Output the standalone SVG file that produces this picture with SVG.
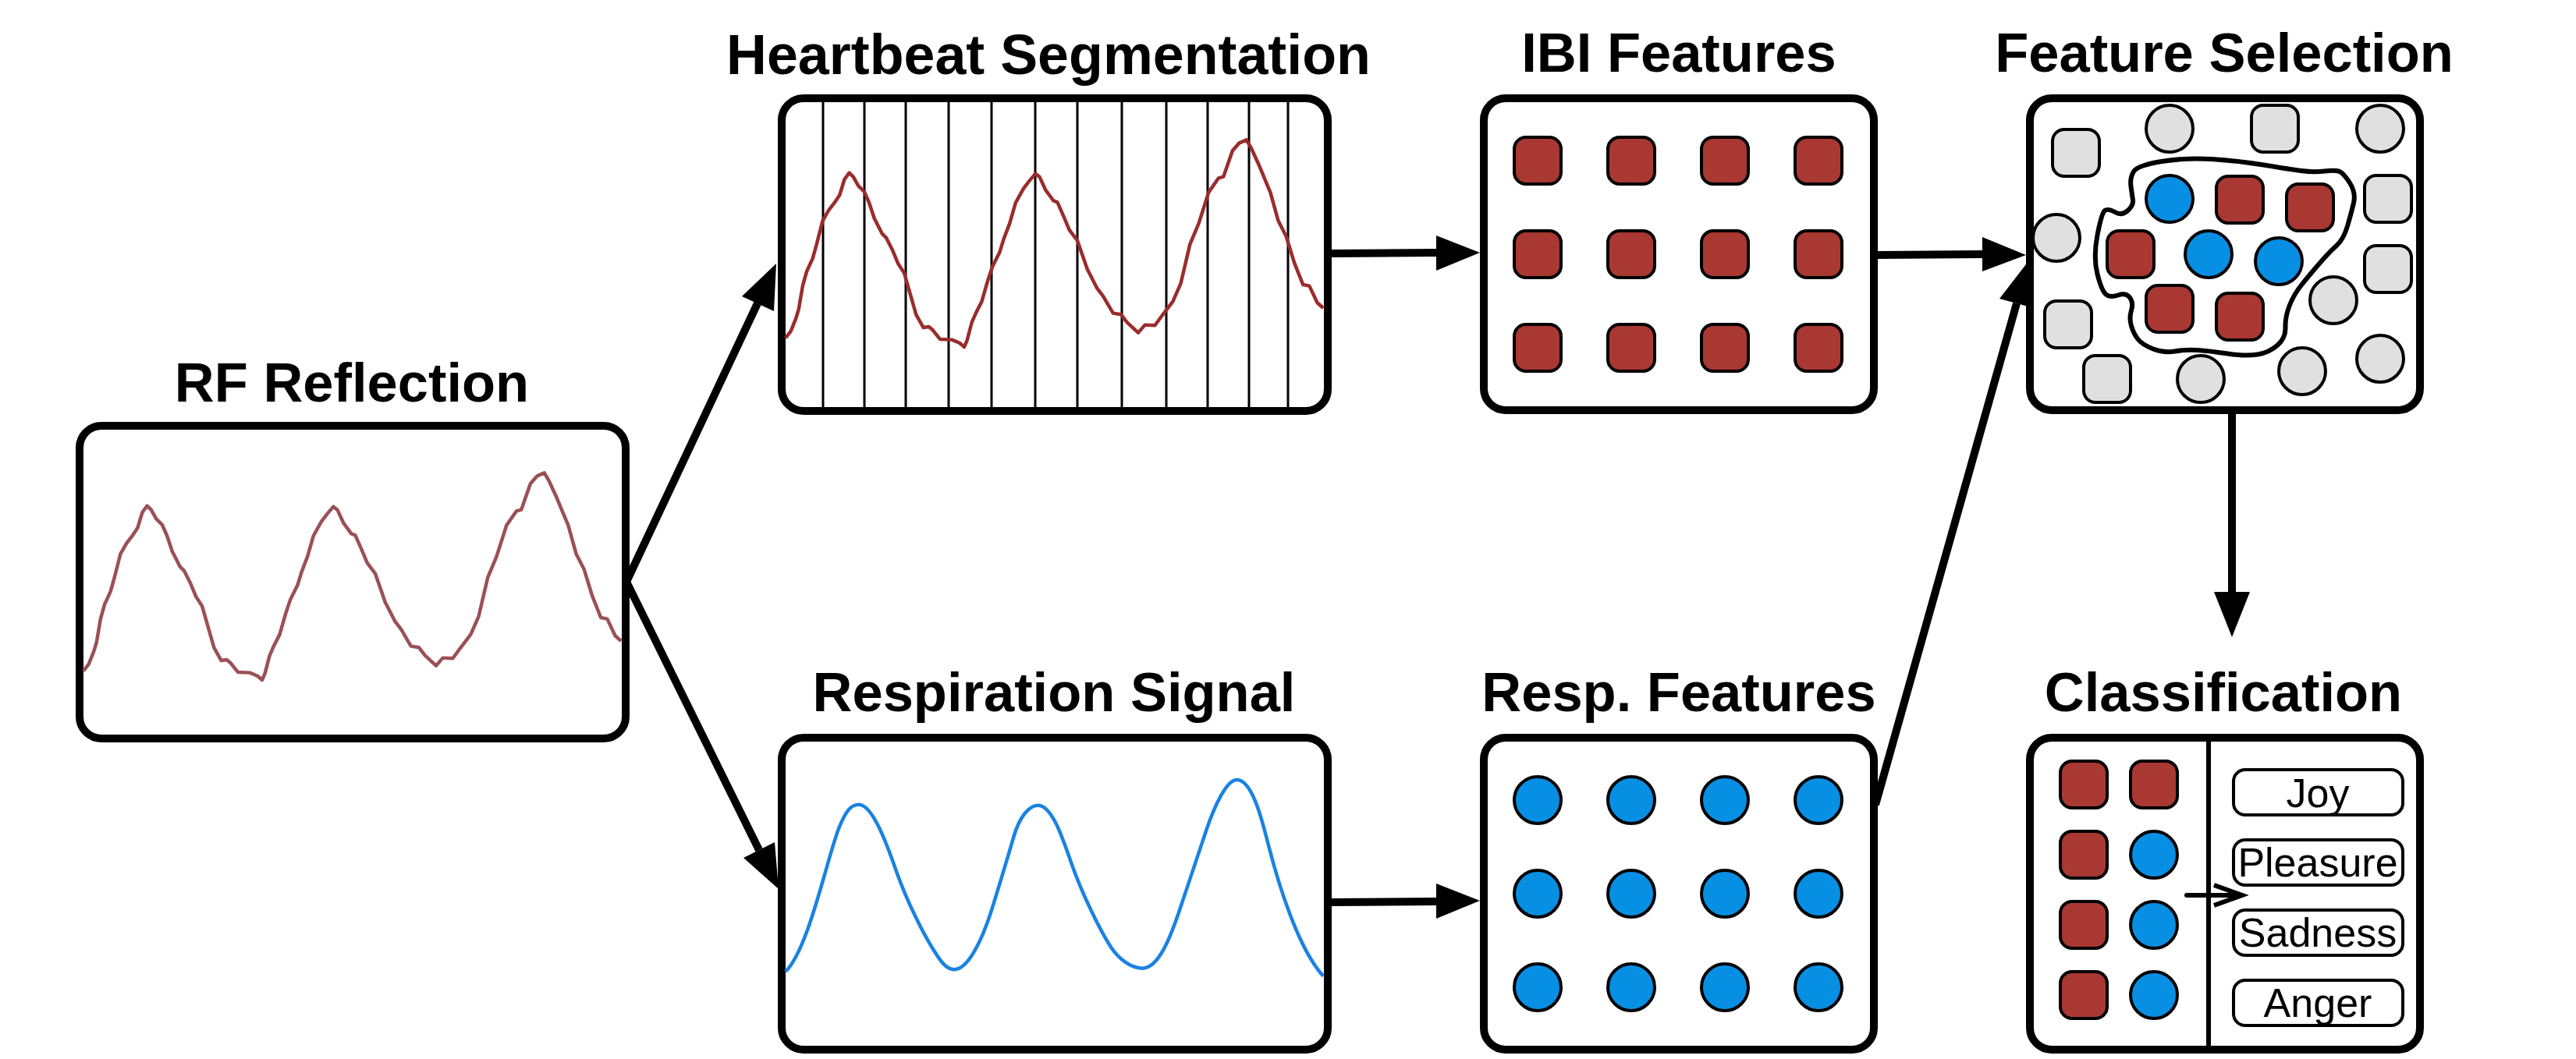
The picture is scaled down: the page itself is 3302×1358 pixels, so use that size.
<svg xmlns="http://www.w3.org/2000/svg" width="3302" height="1358" viewBox="0 0 3302 1358">
<style>
text{font-family:"Liberation Sans",Arial,sans-serif;text-anchor:middle;fill:#000}
.t{font-size:70.5px;font-weight:bold}
.l{font-size:52px}
.box{fill:#fff;stroke:#000;stroke-width:10}
.lb{fill:#fff;stroke:#000;stroke-width:4}
.r{fill:#A93832;stroke:#000;stroke-width:4}
.g{fill:#E0E0E0;stroke:#000;stroke-width:4}
.b{fill:#078FE3;stroke:#000;stroke-width:4}
.w{fill:none;stroke-width:4.5;stroke-linejoin:round;vector-effect:non-scaling-stroke}
.v{stroke:#000;stroke-width:3}
.c{stroke:#000;stroke-width:10;fill:none}
.h{fill:#000;stroke:none}
</style>
<defs>
<polyline id="ecg" class="w" points="92,1240 105,1215 118,1165 125,1130 135,1040 145,985 160,935 170,880 185,790 200,750 215,720 228,690 240,630 252,605 262,620 275,655 290,678 302,720 315,780 335,840 345,855 360,900 375,955 390,990 405,1070 420,1150 438,1200 452,1197 462,1210 480,1245 510,1247 530,1260 541,1275 548,1250 560,1180 570,1145 585,1100 600,1020 612,965 630,910 640,860 655,800 670,720 690,665 705,635 720,608 730,620 745,670 765,712 775,718 790,770 805,825 825,865 850,975 875,1050 890,1080 915,1145 935,1150 950,1180 978,1220 995,1190 1020,1192 1040,1150 1065,1100 1085,1030 1108,880 1130,800 1155,680 1180,625 1192,620 1215,520 1232,490 1250,478 1262,510 1280,570 1295,625 1310,680 1330,790 1350,850 1370,950 1392,1035 1408,1040 1428,1105 1443,1125"/>
<rect id="sq" x="-30" y="-30" width="60" height="60" rx="15"/>
<circle id="ci" r="30"/>
</defs>
<rect width="3302" height="1358" fill="#fff"/>
<g id="node-rf">
<text class="t" x="451" y="515">RF Reflection</text>
<rect class="box" x="102" y="546" width="700" height="401" rx="28"/>
<g transform="translate(60,447) scale(.5102,.3333)"><use href="#ecg" stroke="#9B5055"/></g>
</g>
<g id="node-heartbeat">
<text class="t" x="1344" y="95" style="font-size:71.8px">Heartbeat Segmentation</text>
<rect class="box" x="1002" y="126" width="700" height="401" rx="28"/>
<path class="v" d="M1055 131V522M1108 131V522M1161 131V522M1216 131V522M1271 131V522M1327 131V522M1381 131V522M1438 131V522M1495 131V522M1548 131V522M1601 131V522M1651 131V522"/>
<g transform="translate(960,20) scale(.5102,.3333)"><use href="#ecg" stroke="#992D2C"/></g>
</g>
<g id="node-resp">
<text class="t" x="1351" y="912">Respiration Signal</text>
<rect class="box" x="1002" y="946" width="700" height="400" rx="28"/>
<g transform="translate(960,840) scale(.5102,.3333)"><path class="w" stroke="#1A82E2" d="M92,1218 C150,1130 195,790 225,670 C245,590 260,575 276,575 C310,575 345,720 370,830 C400,960 440,1075 460,1125 C480,1175 495,1210 516,1210 C550,1210 585,1100 610,980 C630,880 650,780 665,700 C680,620 705,578 726,578 C760,578 785,690 810,800 C835,910 880,1055 910,1125 C930,1170 960,1205 988,1205 C1030,1205 1060,1080 1080,990 C1100,900 1130,760 1150,670 C1170,580 1200,480 1226,480 C1265,480 1290,640 1305,730 C1330,880 1380,1130 1443,1235"/></g>
</g>
<g id="node-ibi">
<text class="t" x="2152" y="92">IBI Features</text>
<rect class="box" x="1902" y="126" width="500" height="400" rx="28"/>
<use href="#sq" class="r" x="1971" y="206"/><use href="#sq" class="r" x="2091" y="206"/><use href="#sq" class="r" x="2211" y="206"/><use href="#sq" class="r" x="2331" y="206"/>
<use href="#sq" class="r" x="1971" y="326"/><use href="#sq" class="r" x="2091" y="326"/><use href="#sq" class="r" x="2211" y="326"/><use href="#sq" class="r" x="2331" y="326"/>
<use href="#sq" class="r" x="1971" y="446"/><use href="#sq" class="r" x="2091" y="446"/><use href="#sq" class="r" x="2211" y="446"/><use href="#sq" class="r" x="2331" y="446"/>
</g>
<g id="node-respfeat">
<text class="t" x="2152" y="912">Resp. Features</text>
<rect class="box" x="1902" y="946" width="500" height="400" rx="28"/>
<use href="#ci" class="b" x="1971" y="1026"/><use href="#ci" class="b" x="2091" y="1026"/><use href="#ci" class="b" x="2211" y="1026"/><use href="#ci" class="b" x="2331" y="1026"/>
<use href="#ci" class="b" x="1971" y="1146"/><use href="#ci" class="b" x="2091" y="1146"/><use href="#ci" class="b" x="2211" y="1146"/><use href="#ci" class="b" x="2331" y="1146"/>
<use href="#ci" class="b" x="1971" y="1266"/><use href="#ci" class="b" x="2091" y="1266"/><use href="#ci" class="b" x="2211" y="1266"/><use href="#ci" class="b" x="2331" y="1266"/>
</g>
<g id="node-selection">
<text class="t" x="2851" y="92">Feature Selection</text>
<rect class="box" x="2602" y="126" width="500" height="400" rx="28"/>
<path fill="none" stroke="#000" stroke-width="6" d="M2731.5,239 Q2730,228 2735,220 Q2740,212 2771,207 Q2802,202 2835,204 Q2868,206 2901.5,211.5 Q2935,217 2950,219 Q2965,221 2979.5,219.5 Q2994,218 2999,220 Q3004,222 3012,234.5 Q3020,247 3017,260 Q3014,273 3009,290 Q3004,307 2995,315 Q2986,323 2973,338 Q2960,353 2950,365.5 Q2940,378 2934.5,392.5 Q2929,407 2929.5,420 Q2930,433 2919.5,442.5 Q2909,452 2894,454.5 Q2879,457 2855.5,453.5 Q2832,450 2817,449 Q2802,448 2788,450.5 Q2774,453 2760,447.5 Q2746,442 2740.5,435 Q2735,428 2732,418 Q2729,408 2732,398 Q2735,388 2730,381.5 Q2725,375 2715,378.5 Q2705,382 2699.5,377.5 Q2694,373 2688.5,351.5 Q2683,330 2688.5,301.5 Q2694,273 2698,270 Q2702,267 2711,272 Q2720,277 2727.5,270 Q2735,263 2734,256.5 Q2733,250 2731.5,239 Z"/>
<use href="#sq" class="g" x="2661" y="196"/><use href="#ci" class="g" x="2781" y="165"/><use href="#sq" class="g" x="2916" y="165"/><use href="#ci" class="g" x="3051" y="165"/>
<use href="#sq" class="g" x="3061" y="255"/><use href="#ci" class="g" x="2636" y="305"/><use href="#sq" class="g" x="3061" y="345"/><use href="#ci" class="g" x="2991" y="385"/>
<use href="#sq" class="g" x="2651" y="416"/><use href="#sq" class="g" x="2701" y="486"/><use href="#ci" class="g" x="2821" y="486"/><use href="#ci" class="g" x="2951" y="476"/><use href="#ci" class="g" x="3051" y="460"/>
<use href="#ci" class="b" x="2781" y="255"/><use href="#sq" class="r" x="2871" y="256"/><use href="#sq" class="r" x="2961" y="266"/>
<use href="#sq" class="r" x="2731" y="326"/><use href="#ci" class="b" x="2831" y="326"/><use href="#ci" class="b" x="2921" y="335"/>
<use href="#sq" class="r" x="2781" y="396"/><use href="#sq" class="r" x="2871" y="406"/>
</g>
<g id="node-classification">
<text class="t" x="2850" y="912">Classification</text>
<rect class="box" x="2602" y="946" width="500" height="400" rx="28"/>
<path stroke="#000" stroke-width="6" d="M2831 951V1341"/>
<use href="#sq" class="r" x="2671" y="1006"/><use href="#sq" class="r" x="2761" y="1006"/>
<use href="#sq" class="r" x="2671" y="1096"/><use href="#ci" class="b" x="2761" y="1096"/>
<use href="#sq" class="r" x="2671" y="1186"/><use href="#ci" class="b" x="2761" y="1186"/>
<use href="#sq" class="r" x="2671" y="1276"/><use href="#ci" class="b" x="2761" y="1276"/>
<rect class="lb" x="2863" y="987" width="217" height="58" rx="15"/><text class="l" x="2971" y="1035">Joy</text>
<rect class="lb" x="2863" y="1077" width="217" height="58" rx="15"/><text class="l" x="2971" y="1124">Pleasure</text>
<rect class="lb" x="2863" y="1167" width="217" height="58" rx="15"/><text class="l" x="2971" y="1214">Sadness</text>
<rect class="lb" x="2863" y="1257" width="217" height="58" rx="15"/><text class="l" x="2971" y="1304">Anger</text>
<path fill="none" stroke="#000" stroke-width="6" stroke-linecap="round" d="M2803 1148H2870"/>
<path fill="none" stroke="#000" stroke-width="6" d="M2838 1135L2874 1148L2838 1161"/>
</g>
<g id="connectors">
<path class="c" d="M803 746L971 389"/><polygon class="h" points="995,338 992,399 951,380"/>
<path class="c" d="M803 746L973 1090"/><polygon class="h" points="998,1140 993,1080 953,1100"/>
<path class="c" d="M1706 325L1841 324"/><polygon class="h" points="1897,324 1841,302 1841,347"/>
<path class="c" d="M2407 327L2541 326"/><polygon class="h" points="2597,327 2541,304 2541,348"/>
<path class="c" d="M1706 1157L1841 1156"/><polygon class="h" points="1897,1155 1841,1133 1841,1178"/>
<path class="c" d="M2404 1032L2585 389"/><polygon class="h" points="2600,335 2607,395 2563,383"/>
<path class="c" d="M2861 531V760"/><polygon class="h" points="2861,817 2838,759 2884,759"/>
</g>
</svg>
